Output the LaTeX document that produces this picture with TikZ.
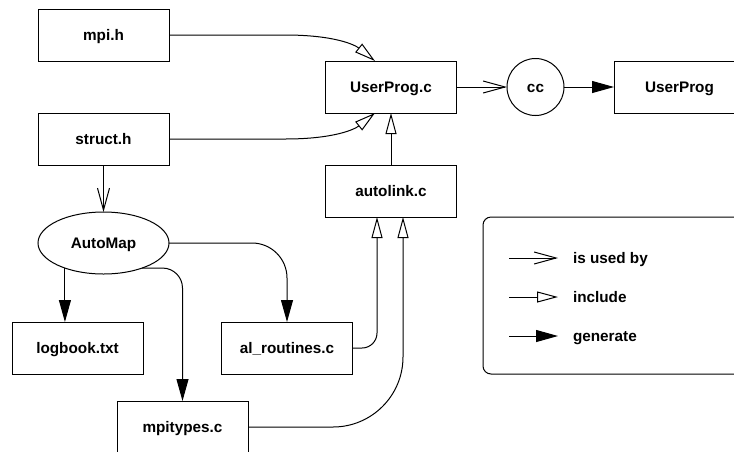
\documentclass[tikz,border=0pt]{standalone}
\usepackage{fontspec}
\setmainfont{Liberation Sans}
\usetikzlibrary{arrows.meta,shapes.geometric}
\begin{document}
\begin{tikzpicture}[x=1pt,y=-1pt,line width=1pt,
  every node/.style={font=\fontsize{15.3}{18}\selectfont\bfseries, text height=11pt, text depth=0pt, inner sep=0pt, outer sep=0pt},
  filebox/.style={draw, rectangle, minimum width=131pt, minimum height=52pt},
  usedby/.style={-{Straight Barb[length=22pt,width=12pt]}},
  incl/.style={-{Triangle[open,length=21pt,width=11pt,fill=white]}},
  gen/.style={-{Triangle[length=22pt,width=12pt]}}]
\path[use as bounding box, clip] (0,0) rectangle (734,451);
% nodes
\node[filebox] (mpi) at (103.5,35) {mpi.h};
\node[filebox] (struct) at (103.5,139) {struct.h};
\node[filebox] (upc) at (391,87) {UserProg.c};
\node[draw, circle, minimum size=57pt] (cc) at (535.5,87) {cc};
\node[filebox] (up) at (679.5,87) {UserProg};
\node[filebox] (autolink) at (391,191) {autolink.c};
\node[draw, ellipse, minimum width=131pt, minimum height=62pt] (automap) at (103.5,243) {AutoMap};
\node[filebox] (logbook) at (77.5,348) {logbook.txt};
\node[filebox] (al) at (287,348) {al\_routines.c};
\node[filebox] (mp) at (182.5,427) {mpitypes.c};
% connectors
\draw[incl] (mpi.east) -- (285,35) .. controls (335,35) and (355,45) .. ([xshift=-16pt]upc.north);
\draw[incl] (struct.east) -- (285,139) .. controls (335,139) and (355,129) .. ([xshift=-16pt]upc.south);
\draw[incl] (autolink.north) -- (upc.south);
\draw[usedby] (upc.east) -- (cc.west);
\draw[gen] (cc.east) -- (up.west);
\draw[usedby] (struct.south) -- (automap.north);
\draw[gen] (automap.213) -- (automap.213 |- logbook.north);
\draw[gen, rounded corners=35pt] (automap.east) -| (al.north);
\draw[gen, rounded corners=20pt] (automap.-33) -| (mp.north);
\draw[incl, rounded corners=15pt] (al.east) -| ([xshift=-14pt]autolink.south);
\draw[incl, rounded corners=70pt] (mp.east) -| ([xshift=12pt]autolink.south);
% legend
\draw[rounded corners=8pt] (483,217) rectangle (780,374);
\coordinate (l1a) at (509,258); \coordinate (l1b) at (558,258);
\coordinate (l2a) at (509,297); \coordinate (l2b) at (558,297);
\coordinate (l3a) at (509,336); \coordinate (l3b) at (558,336);
\draw[usedby] (l1a) -- (l1b);
\draw[incl] (l2a) -- (l2b);
\draw[gen] (l3a) -- (l3b);
\node[anchor=west] (t1) at (573,258) {is used by};
\node[anchor=west] (t2) at (573,297) {include};
\node[anchor=west] (t3) at (573,336) {generate};
\end{tikzpicture}
\end{document}
